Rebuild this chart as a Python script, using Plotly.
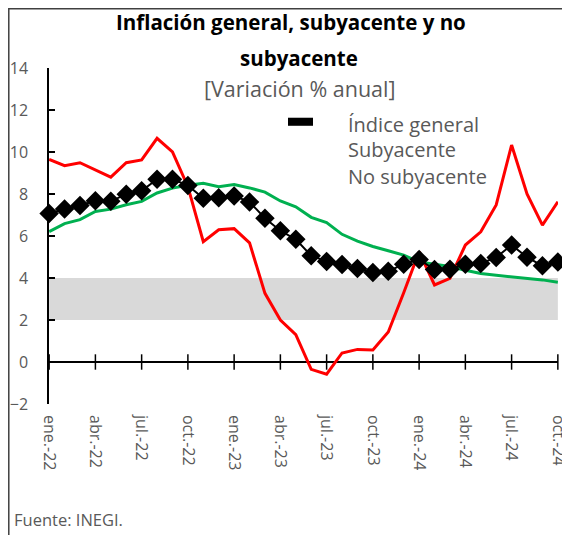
import plotly.graph_objects as go

# meses ene.-22 .. oct.-24
meses = ["ene.-22", "feb.-22", "mar.-22", "abr.-22", "may.-22", "jun.-22", "jul.-22", "ago.-22",
         "sep.-22", "oct.-22", "nov.-22", "dic.-22", "ene.-23", "feb.-23", "mar.-23", "abr.-23",
         "may.-23", "jun.-23", "jul.-23", "ago.-23", "sep.-23", "oct.-23", "nov.-23", "dic.-23",
         "ene.-24", "feb.-24", "mar.-24", "abr.-24", "may.-24", "jun.-24", "jul.-24", "ago.-24",
         "sep.-24", "oct.-24"]

general = [7.07, 7.28, 7.45, 7.68, 7.65, 7.99, 8.15, 8.70, 8.70, 8.41, 7.80, 7.82,
           7.91, 7.62, 6.85, 6.25, 5.84, 5.06, 4.79, 4.64, 4.45, 4.26, 4.32, 4.66,
           4.88, 4.40, 4.42, 4.65, 4.69, 4.98, 5.57, 4.99, 4.58, 4.76]

subyacente = [6.21, 6.59, 6.78, 7.17, 7.28, 7.49, 7.65, 8.05, 8.28, 8.42, 8.51, 8.35,
              8.45, 8.29, 8.09, 7.67, 7.39, 6.89, 6.64, 6.08, 5.76, 5.50, 5.30, 5.09,
              4.76, 4.64, 4.55, 4.37, 4.21, 4.13, 4.05, 4.00, 3.91, 3.80]

no_subyacente = [9.65, 9.35, 9.49, 9.14, 8.80, 9.49, 9.62, 10.65, 10.00, 8.35, 5.73, 6.30,
                 6.35, 5.67, 3.27, 2.00, 1.30, -0.35, -0.58, 0.43, 0.60, 0.57, 1.43, 3.30,
                 5.25, 3.67, 3.98, 5.57, 6.20, 7.48, 10.33, 8.00, 6.52, 7.63]

banda = [2, 4]

x = list(range(len(meses)))
ticks_x = x[::3]
etiquetas_x = meses[::3]

gris = "#595959"
fuente = "Open Sans"

fig = go.Figure()

fig.add_trace(go.Scatter(x=x, y=subyacente, mode="lines", name="Subyacente",
                         line=dict(color="#00b050", width=3), showlegend=False))
fig.add_trace(go.Scatter(x=x, y=no_subyacente, mode="lines", name="No subyacente",
                         line=dict(color="#ff0000", width=3), showlegend=False))
fig.add_trace(go.Scatter(x=x, y=general, mode="lines+markers", name="Índice general",
                         line=dict(color="black", width=2),
                         marker=dict(symbol="diamond", size=15, color="black"),
                         cliponaxis=False, showlegend=False))
# marcas del eje horizontal, cruzando la línea del cero
fig.add_trace(go.Scatter(x=ticks_x, y=[0] * len(ticks_x), mode="markers", showlegend=False,
                         hoverinfo="skip", cliponaxis=False,
                         marker=dict(symbol="line-ns", size=11, line=dict(color="black", width=1.5))))

fig.add_shape(type="rect", xref="x", yref="y", x0=x[0], x1=x[-1], y0=banda[0], y1=banda[1],
              fillcolor="#d9d9d9", line_width=0, layer="below")

# marco
fig.add_shape(type="rect", xref="paper", yref="paper", x0=-0.079, x1=1.05, y0=-0.6, y1=1.176,
              line=dict(color="#404040", width=1.5), fillcolor="rgba(0,0,0,0)")

# leyenda
fig.add_shape(type="rect", xref="paper", yref="paper", x0=0.4695, x1=0.5187, y0=0.828, y1=0.852,
              fillcolor="black", line_width=0)
for txt, yy in [("Índice general", 0.833), ("Subyacente", 0.756), ("No subyacente", 0.676)]:
    fig.add_annotation(text=txt, xref="paper", yref="paper", x=0.583, y=yy, xanchor="left",
                       yanchor="middle", showarrow=False, font=dict(family=fuente, size=20, color=gris))

fig.add_annotation(text="<b>Inflación general, subyacente y no</b>", xref="paper", yref="paper",
                   x=0.4755, y=1.137, xanchor="center", yanchor="middle", showarrow=False,
                   font=dict(family=fuente, size=20.5, color="black"))
fig.add_annotation(text="<b>subyacente</b>", xref="paper", yref="paper",
                   x=0.492, y=1.030, xanchor="center", yanchor="middle", showarrow=False,
                   font=dict(family=fuente, size=20.5, color="black"))
fig.add_annotation(text="[Variación % anual]", xref="paper", yref="paper",
                   x=0.492, y=0.940, xanchor="center", yanchor="middle", showarrow=False,
                   font=dict(family=fuente, size=21.5, color=gris))
fig.add_annotation(text="Fuente: INEGI.", xref="paper", yref="paper",
                   x=-0.073, y=-0.345, xanchor="left", yanchor="middle", showarrow=False,
                   font=dict(family=fuente, size=16.5, color=gris))

# la página añade 8 px de margen, por eso la figura mide 562x527
fig.update_layout(
    width=562, height=527,
    margin=dict(l=41, r=12, t=60, b=131),
    paper_bgcolor="white", plot_bgcolor="white",
    xaxis=dict(range=[-0.01, 33.01], tickmode="array", tickvals=ticks_x, ticktext=etiquetas_x,
               tickangle=90, showline=False, ticks="", showgrid=False, zeroline=False,
               ticklabelstandoff=10, ticklabeloverflow="allow", automargin=False,
               tickfont=dict(family=fuente, size=16, color=gris)),
    yaxis=dict(range=[-2, 14], dtick=2, ticks="inside", ticklen=6, tickwidth=1.5,
               tickcolor="black", showline=True, linecolor="black", linewidth=1.5,
               showgrid=False, zeroline=True, zerolinecolor="black", zerolinewidth=1.5,
               ticklabelstandoff=16, automargin=False,
               tickfont=dict(family=fuente, size=16, color=gris)),
)

fig.write_html("out.html")
